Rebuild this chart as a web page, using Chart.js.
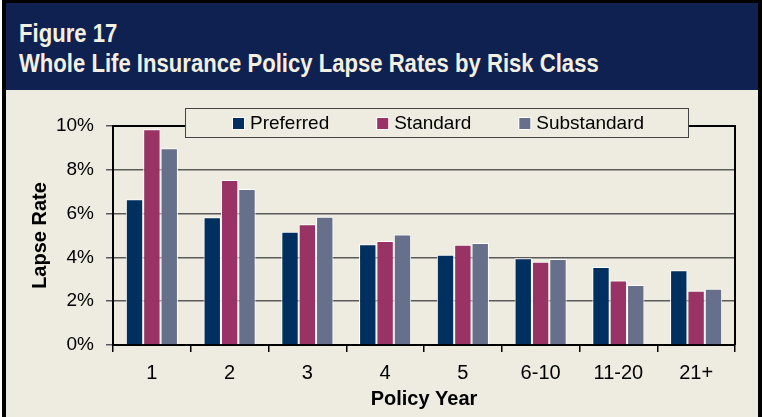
<!DOCTYPE html>
<html>
<head>
<meta charset="utf-8">
<script src="https://cdn.jsdelivr.net/npm/chart.js@4/dist/chart.umd.min.js"></script>
<style>
  html, body { margin: 0; padding: 0; background: #ffffff; }
  #frame {
    position: absolute; left: 2px; top: 0; width: 752px; height: 420px;
    border-left: 4px solid #000; border-top: 3px solid #000; border-right: 4px solid #000;
    background: #eeebe0; overflow: hidden;
  }
  #header {
    position: absolute; left: 0; top: 0; width: 752px; height: 87px;
    background: #0f2150; color: #f3f0e2;
    font-family: "Liberation Sans Narrow", "Liberation Sans", Arial, sans-serif;
    font-weight: bold; font-size: 26px; line-height: 31px;
  }
  #header div {
    position: absolute; left: 13px; white-space: nowrap;
    transform: scaleX(0.85); transform-origin: 0 50%;
  }
  #wrap { position: absolute; left: 0; top: 87px; width: 752px; height: 330px; }
</style>
</head>
<body>
<div id="frame">
  <div id="header">
    <div style="top:15px">Figure 17</div>
    <div style="top:45px">Whole Life Insurance Policy Lapse Rates by Risk Class</div>
  </div>
  <div id="wrap"><canvas id="chart" width="752" height="330"></canvas></div>
</div>
<script>
// lapse rates (%)
const policyYears = ['1', '2', '3', '4', '5', '6-10', '11-20', '21+'];
const preferred = [6.65, 5.83, 5.17, 4.6, 4.12, 3.96, 3.56, 3.41];
const standard = [9.85, 7.53, 5.51, 4.75, 4.58, 3.8, 2.95, 2.48];
const substandard = [8.98, 7.12, 5.86, 5.05, 4.66, 3.93, 2.74, 2.57];
const seriesNames = ['Preferred', 'Standard', 'Substandard'];
const seriesColors = ['#00305f', '#993366', '#66708a'];
const yTicks = [0, 2, 4, 6, 8, 10];

const font = '"Liberation Sans", Arial, sans-serif';

// plot frame (top and right edges)
const frameBox = {
    id: 'frameBox',
    beforeDatasetsDraw(chart) {
        const a = chart.chartArea;
        const ctx = chart.ctx;
        ctx.save();
        ctx.strokeStyle = '#000';
        ctx.lineWidth = 2;
        ctx.beginPath();
        ctx.moveTo(a.left, a.top);
        ctx.lineTo(a.right, a.top);
        ctx.lineTo(a.right, a.bottom);
        ctx.stroke();
        ctx.restore();
    }
};

// boxed legend sitting on the top edge of the plot
const boxLegend = {
    id: 'boxLegend',
    afterDraw(chart) {
        const ctx = chart.ctx;
        const x0 = 179, y0 = 18, w = 503, h = 29;
        ctx.save();
        ctx.fillStyle = '#eeebe0';
        ctx.fillRect(x0, y0, w, h);
        ctx.strokeStyle = '#444';
        ctx.lineWidth = 1;
        ctx.strokeRect(x0 + 0.5, y0 + 0.5, w, h);
        ctx.font = '19px ' + font;
        ctx.textBaseline = 'middle';
        let x = 227;
        const cy = y0 + h / 2 + 1;
        chart.data.datasets.forEach(ds => {
            ctx.fillStyle = '#fff';
            ctx.fillRect(x - 1, cy - 6.5, 13, 13);
            ctx.fillStyle = ds.backgroundColor;
            ctx.fillRect(x, cy - 5.5, 11, 11);
            ctx.fillStyle = '#000';
            ctx.fillText(ds.label, x + 17, cy);
            x += 17 + ctx.measureText(ds.label).width + 48;
        });
        ctx.restore();
    }
};

const seriesValues = [preferred, standard, substandard];

new Chart(document.getElementById('chart').getContext('2d'), {
    type: 'bar',
    data: {
        labels: policyYears,
        datasets: seriesNames.map((name, i) => ({
            label: name,
            data: seriesValues[i],
            backgroundColor: seriesColors[i],
            borderColor: '#ffffff',
            borderWidth: {top: 1, left: 1, right: 1, bottom: 0},
            barPercentage: 1,
            categoryPercentage: 0.67
        }))
    },
    options: {
        responsive: false,
        animation: false,
        layout: {
            padding: {left: 0, right: 23, top: 36, bottom: 0}
        },
        scales: {
            x: {
                afterFit: s => { s.height = 75; },
                grid: {
                    offset: true,
                    drawOnChartArea: false,
                    tickLength: 7,
                    color: '#000',
                    lineWidth: 1.5
                },
                border: {color: '#000', width: 2},
                ticks: {
                    color: '#000',
                    font: {family: font, size: 20},
                    padding: 9,
                    maxRotation: 0
                },
                title: {
                    display: true,
                    text: 'Policy Year',
                    color: '#000',
                    font: {family: font, size: 20, weight: 'bold'},
                    padding: {top: 0, bottom: 9}
                }
            },
            y: {
                min: 0,
                max: 10,
                afterFit: s => { s.width = 107; },
                afterBuildTicks: s => { s.ticks = yTicks.map(v => ({value: v})); },
                grid: {
                    color: '#5a5a5a',
                    lineWidth: 1.5,
                    tickLength: 7
                },
                border: {color: '#000', width: 2},
                ticks: {
                    color: '#000',
                    font: {family: font, size: 19},
                    padding: 12,
                    callback: v => v + '%'
                },
                title: {
                    display: true,
                    text: 'Lapse Rate',
                    color: '#000',
                    font: {family: font, size: 20, weight: 'bold'},
                    padding: {top: 22, bottom: 0}
                }
            }
        },
        plugins: {
            legend: {display: false},
            tooltip: {enabled: false}
        }
    },
    plugins: [frameBox, boxLegend]
});
</script>
</body>
</html>
